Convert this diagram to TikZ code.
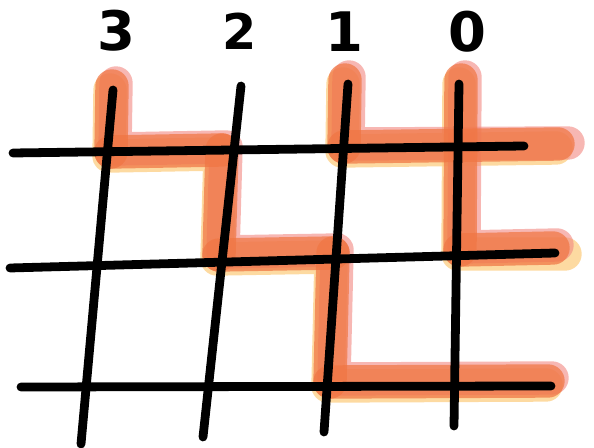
\documentclass[tikz,border=0pt]{standalone}
\usepackage{fontspec}
\setmainfont{DejaVu Sans}
\usetikzlibrary{calc}
\definecolor{inkBlack}{RGB}{0,0,0}
\definecolor{markerYellow}{RGB}{252,206,130}
\definecolor{markerPink}{RGB}{242,135,128}
\definecolor{markerOrange}{RGB}{240,118,68}

\begin{document}
\begin{tikzpicture}[x=0.02cm,y=-0.02cm,
  pen/.style={draw=inkBlack,line width=5pt,line cap=round,line join=round},
  marker/.style={line width=19pt,line cap=round,line join=round,opacity=#1},
  digit/.style={font=\bfseries\fontsize{31}{31}\selectfont,text=inkBlack,inner sep=0pt}]
\useasboundingbox (0,0) rectangle (594,448);
% grid ends
\coordinate (v3t) at (113,90);  \coordinate (v3b) at (81,444);
\coordinate (v2t) at (241,86);  \coordinate (v2b) at (203,437);
\coordinate (v1t) at (348,84);  \coordinate (v1b) at (324,432);
\coordinate (v0t) at (459,84);  \coordinate (v0b) at (454,426);
\coordinate (h1l) at (13,153);  \coordinate (h1r) at (524,146);
\coordinate (h2l) at (10,268);  \coordinate (h2r) at (555,253);
\coordinate (h3l) at (21,387);  \coordinate (h3r) at (551,386);
% marked routes
\coordinate (a0) at (112,86);  \coordinate (a1) at (111,152);
\coordinate (a2) at (222,150); \coordinate (a3) at (219,255);
\coordinate (a4) at (333,253); \coordinate (a5) at (330,382);
\coordinate (a6) at (548,381);
\coordinate (b0) at (345,80);  \coordinate (b1) at (344,147);
\coordinate (b2) at (558,144);
\coordinate (c0) at (461,80);  \coordinate (c1) at (460,250);
\coordinate (c2) at (553,248);

\begin{scope}[transform canvas={shift={(-2,4)}}]
  \draw[marker=0.75,markerYellow] (a0) -- (a1) -- (a2) -- (a3) -- (a4) -- (a5) -- (a6);
  \draw[marker=0.75,markerYellow] (b0) -- (b1) -- (b2);
  \draw[marker=0.75,markerYellow] (c0) -- (c1) -- ($(c2)+(14,2)$);
\end{scope}
\begin{scope}[transform canvas={shift={(4,-3)}}]
  \draw[marker=0.6,markerPink] (a0) -- (a1) -- (a2) -- (a3) -- (a4) -- (a5) -- (a6);
  \draw[marker=0.6,markerPink] (b0) -- (b1) -- ($(b2)+(6,2)$);
  \draw[marker=0.6,markerPink] (c0) -- (c1) -- (c2);
\end{scope}
\foreach \p/\q in {a0/a1,a1/a2,a2/a3,a3/a4,a4/a5,a5/a6,b0/b1,b1/b2,c0/c1,c1/c2}
  \draw[marker=0.72,markerOrange] (\p) -- (\q);

% grid
\draw[pen] (v3t) -- (v3b);
\draw[pen] (v2t) -- (v2b);
\draw[pen] (v1t) -- (v1b);
\draw[pen] (v0t) -- (v0b);
\draw[pen] (h1l) -- (h1r);
\draw[pen] (h2l) -- (h2r);
\draw[pen] (h3l) -- (h3r);

% digits
\node[digit] (d3) at (116,31) {3};
\node[digit,font=\bfseries\fontsize{28}{28}\selectfont] (d2) at (240,31) {2};
\node[digit] (d1) at (344,32) {1};
\node[digit] (d0) at (467,32) {0};
\end{tikzpicture}
\end{document}
